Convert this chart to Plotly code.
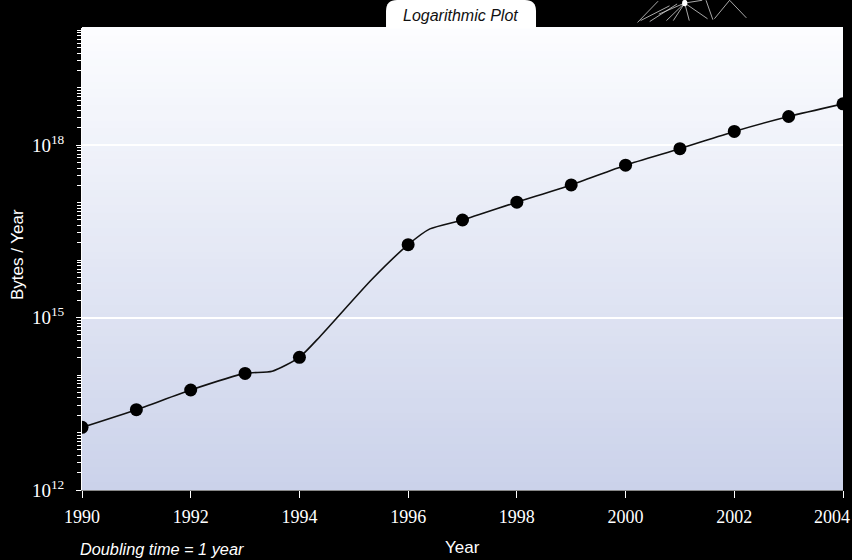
import plotly.graph_objects as go

# --- dados ---
anos = [1990, 1991, 1992, 1993, 1994, 1995, 1996, 1997, 1998, 1999,
        2000, 2001, 2002, 2003, 2004]
bytes_ano = [1.23e13, 2.5e13, 5.5e13, 1.07e14, 2.04e14, 1.25e15, 1.86e16,
             5.0e16, 1.02e17, 2.04e17, 4.5e17, 8.7e17, 1.74e18, 3.16e18, 5.25e18]

# pontos da curva (inclui os vértices intermediários do traçado)
anos_curva = [1990, 1991, 1992, 1993, 1993.5, 1994, 1994.38, 1995.33, 1996,
              1996.4, 1997, 1998, 1999, 2000, 2001, 2002, 2003, 2004]
bytes_curva = [1.23e13, 2.5e13, 5.5e13, 1.07e14, 1.17e14, 2.04e14, 4.7e14, 4.6e15,
               1.86e16, 3.5e16, 5.0e16, 1.02e17, 2.04e17, 4.5e17, 8.7e17,
               1.74e18, 3.16e18, 5.25e18]

anos_marcas = [1990, 1992, 1994, 1996, 1998, 2000, 2002, 2004]
expoentes_rotulo = [12, 15, 18]

# só os pontos anuais recebem marcador
anos_pontos = anos[:5] + anos[6:]
bytes_pontos = bytes_ano[:5] + bytes_ano[6:]

serif = "Liberation Serif"
sans = "Liberation Sans"

fig = go.Figure()

fig.add_trace(go.Scatter(
    x=anos_curva, y=bytes_curva, mode="lines",
    line=dict(color="#111111", width=1.6, shape="spline", smoothing=0.6),
    hoverinfo="skip", showlegend=False, cliponaxis=False,
))
fig.add_trace(go.Scatter(
    x=anos_pontos, y=bytes_pontos, mode="markers",
    marker=dict(color="black", size=13),
    showlegend=False, cliponaxis=False,
    hovertemplate="%{x}: %{y:.2e}<extra></extra>",
))

# fundo em degradê (branco em cima, lilás-azulado embaixo)
faixas = 60
topo = (252, 253, 255)
base = (203, 210, 234)
shapes = []
for i in range(faixas):
    t = (i + 0.5) / faixas
    cor = tuple(round(base[k] + (topo[k] - base[k]) * t) for k in range(3))
    shapes.append(dict(
        type="rect", xref="x domain", yref="y domain",
        x0=0, x1=1, y0=i / faixas, y1=(i + 1) / faixas + 0.002,
        fillcolor=f"rgb{cor}", line=dict(width=0), layer="below",
    ))

# aba do título
rx, ry = 0.0145, 0.024
x0, x1, y0, y1 = 0.3995, 0.5966, 0.999, 1.0606
shapes.append(dict(
    type="path", xref="paper", yref="paper",
    path=(f"M {x0},{y0} L {x0},{y1 - ry} Q {x0},{y1} {x0 + rx},{y1} "
          f"L {x1 - rx},{y1} Q {x1},{y1} {x1},{y1 - ry} L {x1},{y0} Z"),
    fillcolor="white", line=dict(width=0), layer="above",
))

# pequeno desenho decorativo no canto superior direito
linhas_deco = [
    (0.730, 1.012, 0.757, 1.058), (0.734, 1.016, 0.772, 1.048),
    (0.746, 1.014, 0.782, 1.052), (0.768, 1.016, 0.792, 1.054),
    (0.777, 1.016, 0.792, 1.054), (0.792, 1.054, 0.798, 1.016),
    (0.792, 1.054, 0.822, 1.020), (0.792, 1.054, 0.815, 1.060),
    (0.820, 1.060, 0.829, 1.018), (0.831, 1.020, 0.851, 1.060),
    (0.851, 1.060, 0.873, 1.022), (0.758, 1.030, 0.792, 1.054),
]
for a, b, c, d in linhas_deco:
    shapes.append(dict(type="line", xref="paper", yref="paper",
                       x0=a, y0=b, x1=c, y1=d,
                       line=dict(color="rgba(210,210,210,0.8)", width=1)))
shapes.append(dict(type="circle", xref="paper", yref="paper",
                   x0=0.7885, x1=0.7955, y0=1.047, y1=1.061,
                   fillcolor="white", line=dict(width=0)))

menores = [k * 10.0 ** n for n in range(12, 21) for k in range(1, 10)
           if not (k == 1 and n in expoentes_rotulo) and k * 10.0 ** n <= 1.1e20]

fig.update_layout(
    width=852, height=560,
    margin=dict(l=82, r=9, t=28, b=70),
    paper_bgcolor="black",
    plot_bgcolor="rgb(228,231,244)",
    shapes=shapes,
    xaxis=dict(
        range=[1990, 2004], tickmode="array", tickvals=anos_marcas,
        # o rótulo de 2004 vai numa anotação para caber na borda
        ticktext=[str(a) for a in anos_marcas[:-1]] + [""],
        ticks="outside", ticklen=7, tickcolor="white", tickwidth=1,
        showline=True, linecolor="#888888", linewidth=1,
        showgrid=False, zeroline=False, ticklabelstandoff=3,
        tickfont=dict(family=serif, size=18, color="white"),
    ),
    yaxis=dict(
        type="log", range=[12, 20.04], tickmode="array",
        tickvals=[10.0 ** e for e in expoentes_rotulo],
        ticktext=[f"10<sup>{e}</sup>" for e in expoentes_rotulo],
        ticks="outside", ticklen=5, tickcolor="white", tickwidth=1,
        showline=True, linecolor="white", linewidth=1,
        showgrid=True, gridcolor="white", gridwidth=1.5,
        zeroline=False, ticklabelstandoff=8,
        tickfont=dict(family=serif, size=19, color="white"),
        minor=dict(tickmode="array", tickvals=menores, ticks="outside",
                   ticklen=4, tickcolor="white", tickwidth=1, showgrid=False),
    ),
    annotations=[
        dict(text="Logarithmic Plot", x=0.498, y=1.0281, xref="paper", yref="paper",
             showarrow=False, xanchor="center", yanchor="middle",
             font=dict(family=sans, size=16, color="#111111", style="italic")),
        dict(text=str(anos_marcas[-1]), x=1.0118, y=-0.0584, xref="paper", yref="paper",
             showarrow=False, xanchor="right", yanchor="middle",
             font=dict(family=serif, size=18, color="white")),
        dict(text="Year", x=0.5, y=-0.1255, xref="paper", yref="paper",
             showarrow=False, xanchor="center", yanchor="middle",
             font=dict(family=sans, size=17, color="white")),
        dict(text="Doubling time = 1 year", x=-0.0053, y=-0.1277,
             xref="paper", yref="paper", showarrow=False,
             xanchor="left", yanchor="middle",
             font=dict(family=sans, size=16.3, color="white", style="italic")),
        dict(text="Bytes / Year", x=-0.084, y=0.5087, xref="paper", yref="paper",
             showarrow=False, xanchor="center", yanchor="middle", textangle=-90,
             font=dict(family=sans, size=17, color="white")),
    ],
)

# tira a margem padrão da página para o gráfico ocupar a janela inteira
fig.write_html(
    "out.html",
    config={"displayModeBar": False},
    post_script="document.body.style.margin='0';document.body.style.background='black';",
)
